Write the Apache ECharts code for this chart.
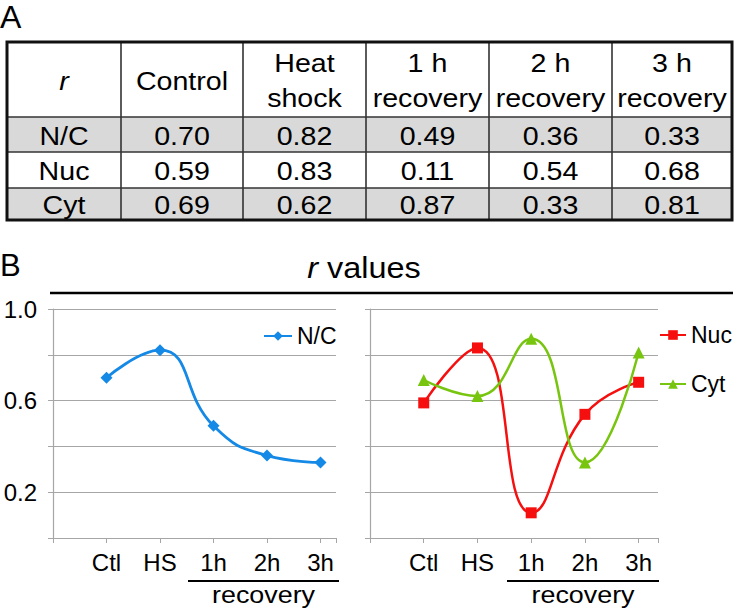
<!DOCTYPE html>
<html>
<head>
<meta charset="utf-8">
<script src="https://cdn.jsdelivr.net/npm/echarts@6/dist/echarts.min.js"></script>
<style>
html,body{margin:0;padding:0;background:#fff;}
#chart{width:737px;height:608px;}
</style>
</head>
<body>
<div id="chart"></div>
<script>
// ---- data ----
const categories = ['Ctl', 'HS', '1h', '2h', '3h'];
const ncValues = [0.70, 0.82, 0.49, 0.36, 0.33];
const nucValues = [0.59, 0.83, 0.11, 0.54, 0.68];
const cytValues = [0.69, 0.62, 0.87, 0.33, 0.81];
const seriesNames = ['N/C', 'Nuc', 'Cyt'];
const tableHeaders = ['Control', 'Heat\nshock', '1 h\nrecovery', '2 h\nrecovery', '3 h\nrecovery'];
const yTickLabels = ['0.2', '0.6', '1.0'];

// ---- layout ----
const FONT = '"Liberation Sans", Arial, sans-serif';
const colX = [7, 121, 243, 366, 489, 612, 732];
const rowY = [42, 117, 152, 188, 220];
const tableRows = [ncValues, nucValues, cytValues];

const chart = echarts.init(document.getElementById('chart'), null, {renderer: 'svg'});

const graphics = [];
// table row fills
[0, 2].forEach(r => {
  graphics.push({type: 'rect', shape: {x: colX[0], y: rowY[r + 1], width: colX[6] - colX[0], height: rowY[r + 2] - rowY[r + 1]},
    style: {fill: '#d9d9d9'}});
});
// inner lines
for (let i = 1; i < 6; i++) {
  graphics.push({type: 'line', shape: {x1: colX[i], y1: rowY[0], x2: colX[i], y2: rowY[4]}, style: {stroke: '#333', lineWidth: 1.6}});
}
for (let j = 1; j < 4; j++) {
  graphics.push({type: 'line', shape: {x1: colX[0], y1: rowY[j], x2: colX[6], y2: rowY[j]}, style: {stroke: '#333', lineWidth: 1.6}});
}
graphics.push({type: 'rect', shape: {x: colX[0], y: rowY[0], width: colX[6] - colX[0], height: rowY[4] - rowY[0]},
  style: {fill: 'none', stroke: '#111', lineWidth: 3}});
// table texts
function cellText(txt, cx, cy, extra) {
  return {type: 'text', x: cx, y: cy, scaleX: 1.1, style: Object.assign({
    text: txt, font: '26px ' + FONT, fill: '#000', align: 'center', verticalAlign: 'middle', lineHeight: 35
  }, extra || {})};
}
const hy = (rowY[0] + rowY[1]) / 2 + 1;
graphics.push(cellText('r', (colX[0] + colX[1]) / 2, hy, {font: 'italic 26px ' + FONT}));
tableHeaders.forEach((h, i) => graphics.push(cellText(h, (colX[i + 1] + colX[i + 2]) / 2, hy)));
seriesNames.forEach((n, r) => {
  const cy = (rowY[r + 1] + rowY[r + 2]) / 2 + 1;
  graphics.push(cellText(n, (colX[0] + colX[1]) / 2, cy));
  tableRows[r].forEach((v, c) => graphics.push(cellText(v.toFixed(2), (colX[c + 1] + colX[c + 2]) / 2, cy)));
});
// panel letters
graphics.push({type: 'text', x: 0, y: 1, style: {text: 'A', font: '32px ' + FONT, fill: '#000'}});
graphics.push({type: 'text', x: 0, y: 250, style: {text: 'B', font: '31px ' + FONT, fill: '#000'}});
// chart title
graphics.push({type: 'text', x: 364, y: 268, scaleX: 1.08, style: {
  text: '{i|r} values', font: '30px ' + FONT, fill: '#000', align: 'center', verticalAlign: 'middle',
  rich: {i: {fontStyle: 'italic', font: 'italic 30px ' + FONT}}
}});
graphics.push({type: 'line', shape: {x1: 50, y1: 293, x2: 733, y2: 293}, style: {stroke: '#000', lineWidth: 2.5}});
// recovery annotations
[[188, 339], [507, 659]].forEach(([a, b]) => {
  graphics.push({type: 'line', shape: {x1: a, y1: 581, x2: b, y2: 581}, style: {stroke: '#000', lineWidth: 2}});
  graphics.push({type: 'text', x: (a + b) / 2, y: 595, scaleX: 1.12, style: {
    text: 'recovery', font: '24px ' + FONT, fill: '#000', align: 'center', verticalAlign: 'middle'}});
});

const gray = '#a6a6a6';
function xAxisCfg(idx, max) {
  return {
    type: 'value', gridIndex: idx, min: 0, max: max, interval: 1,
    axisLine: {lineStyle: {color: gray, width: 1.2}},
    axisTick: {length: 5, lineStyle: {color: gray}},
    splitLine: {show: false},
    axisLabel: {
      margin: 12, color: '#000', fontSize: 24, fontFamily: FONT,
      formatter: v => (Number.isInteger(v) && v >= 1 && v <= categories.length) ? categories[v - 1] : ''
    }
  };
}
function yAxisCfg(idx, showLabels) {
  return {
    type: 'value', gridIndex: idx, min: 0, max: 1, interval: 0.2,
    axisLine: {show: true, lineStyle: {color: gray, width: 1.2}},
    axisTick: {show: true, length: 5, lineStyle: {color: gray}},
    splitLine: {lineStyle: {color: gray, width: 1.2}},
    axisLabel: {
      show: showLabels, margin: 16, color: '#000', fontSize: 24, fontFamily: FONT,
      formatter: v => { const s = v.toFixed(1); return yTickLabels.indexOf(s) >= 0 ? s : ''; }
    }
  };
}
function pts(arr) { return arr.map((v, i) => [i + 1, v]); }
const blue = '#1589e6', red = '#f50f0f', green = '#78c510';

chart.setOption({
  animation: false,
  backgroundColor: '#fff',
  textStyle: {fontFamily: FONT},
  grid: [
    {left: 53, top: 309, width: 283, height: 229},
    {left: 370, top: 309, width: 288, height: 229}
  ],
  xAxis: [xAxisCfg(0, 5.29), xAxisCfg(1, 5.36)],
  yAxis: [yAxisCfg(0, true), yAxisCfg(1, false)],
  legend: [
    {data: [seriesNames[0]], left: 258, top: 318, itemWidth: 28, itemHeight: 12, itemGap: 25,
      textStyle: {fontSize: 23, color: '#000', fontFamily: FONT, lineHeight: 26}},
    {data: [seriesNames[1], seriesNames[2]], orient: 'vertical', left: 654, top: 317, itemWidth: 26, itemHeight: 12, itemGap: 23,
      textStyle: {fontSize: 23, color: '#000', fontFamily: FONT, lineHeight: 26}}
  ],
  series: [
    {name: seriesNames[0], type: 'line', xAxisIndex: 0, yAxisIndex: 0, data: pts(ncValues), smooth: 0.5,
      symbol: 'diamond', symbolSize: 12, color: blue, lineStyle: {width: 2.8, color: blue}, itemStyle: {color: blue}},
    {name: seriesNames[1], type: 'line', xAxisIndex: 1, yAxisIndex: 1, data: pts(nucValues), smooth: 0.5,
      symbol: 'rect', symbolSize: 11, color: red, lineStyle: {width: 2.5, color: red}, itemStyle: {color: red}},
    {name: seriesNames[2], type: 'line', xAxisIndex: 1, yAxisIndex: 1, data: pts(cytValues), smooth: 0.5,
      symbol: 'triangle', symbolSize: 12, color: green, lineStyle: {width: 2.5, color: green}, itemStyle: {color: green}}
  ],
  graphic: graphics
});
</script>
</body>
</html>
